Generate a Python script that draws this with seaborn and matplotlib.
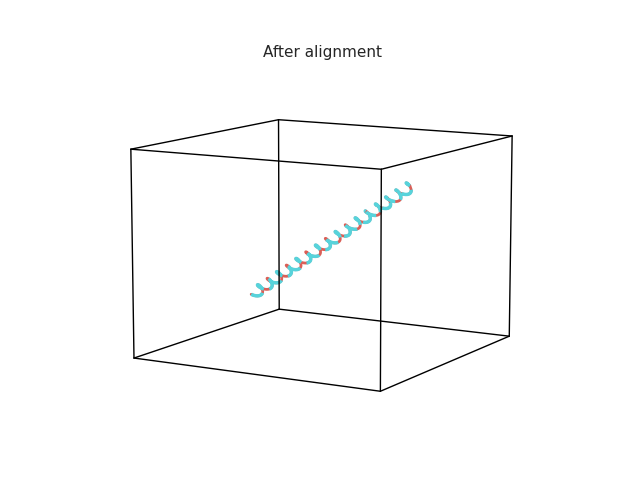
import numpy as np
import matplotlib
matplotlib.use("Agg")
import matplotlib.pyplot as plt
import seaborn as sns

sns.set_theme(style="white")

# bounding cube of the aligned structure
cube_lo = -1.0
cube_hi = 1.0

# helix axis after alignment
n_turns = 16
helix_radius = 0.045
helix_start = np.array([-0.60, -0.015, -0.545])
helix_end = np.array([0.70, 0.015, 0.657])

colors = sns.color_palette("hls", 2)


def helix(start, end, radius, turns, n=1500):
    t = np.linspace(0, 1, n)
    d = end - start
    d_unit = d / np.linalg.norm(d)
    e1 = np.cross(d_unit, [0, 0, 1.0])
    e1 /= np.linalg.norm(e1)
    e2 = np.cross(d_unit, e1)
    ang = 2 * np.pi * turns * t
    pts = start[None, :] + t[:, None] * d[None, :]
    pts += radius * (np.cos(ang)[:, None] * e1 + np.sin(ang)[:, None] * e2)
    return pts[:, 0], pts[:, 1], pts[:, 2]


hx, hy, hz = helix(helix_start, helix_end, helix_radius, n_turns)

fig = plt.figure(figsize=(6.4, 4.8), dpi=100)
ax = fig.add_subplot(projection="3d")
ax.view_init(elev=10, azim=-60)

# reference (red) and aligned (cyan) structures
ax.plot(hx, hy, hz, color=colors[0], lw=2)
ax.plot(hx, hy, hz, color=colors[1], lw=2.5, ls="--")

# cube edges
c = [cube_lo, cube_hi]
for a in c:
    for b in c:
        ax.plot([cube_lo, cube_hi], [a, a], [b, b], color="black", lw=1)
        ax.plot([a, a], [cube_lo, cube_hi], [b, b], color="black", lw=1)
        ax.plot([a, a], [b, b], [cube_lo, cube_hi], color="black", lw=1)

ax.set_xlim(cube_lo, cube_hi)
ax.set_ylim(cube_lo, cube_hi)
ax.set_zlim(cube_lo, cube_hi)
ax.set_box_aspect(None, zoom=1.02)
ax.set_axis_off()
ax.set_title("After alignment")

plt.tight_layout()

# put the title baseline about 22 px below the top edge of the figure
pos = ax.get_position()
title_y = (1 - 22 / 480 - pos.y0) / pos.height
ax.set_title("After alignment", fontsize=11, x=0.507, y=title_y, pad=0)
plt.savefig("out.png", dpi=100)
